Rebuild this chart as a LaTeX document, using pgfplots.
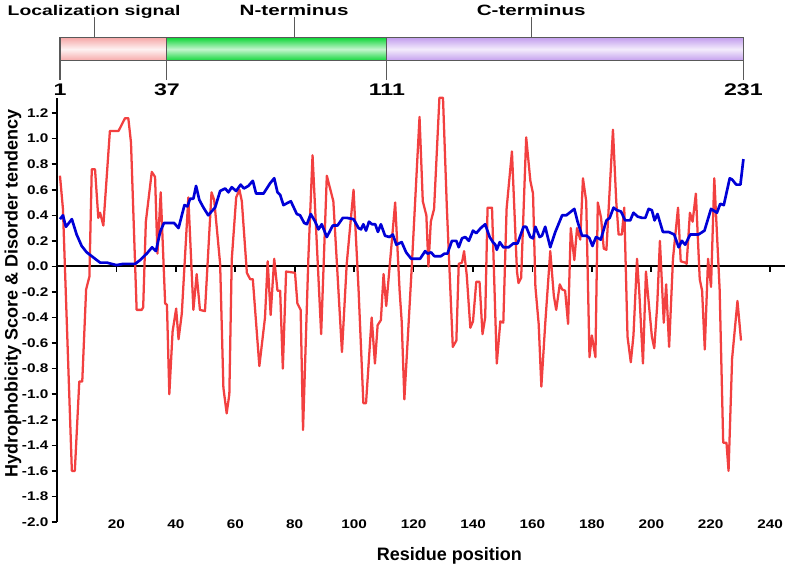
\documentclass[border=0pt]{standalone}
\usepackage{fontspec}
\setmainfont{Liberation Sans}
\newfontfamily\widefont{Liberation Sans}[FakeStretch=1.38]
\newfontfamily\tickfont{Liberation Sans}[FakeStretch=1.22]
\usepackage{pgfplots}
\pgfplotsset{compat=1.18}

\definecolor{hydro}{RGB}{242,64,64}
\definecolor{disorder}{RGB}{0,0,215}
\definecolor{locfill}{RGB}{246,170,170}
\definecolor{nfill}{RGB}{20,215,60}
\definecolor{cfill}{RGB}{196,160,238}

\begin{document}
\begin{tikzpicture}[x=1pt,y=1pt,
    domlab/.style={anchor=base, font=\widefont\fontsize{10.5}{12}\bfseries, inner sep=0pt},
    numlab/.style={anchor=base, font=\widefont\fontsize{12.6}{14}\bfseries, inner sep=0pt},
    barline/.style={black!65, line width=0.8pt}]
\useasboundingbox (-42.75,-35.25) rectangle (547.5,391.5);
\begin{axis}[
    scale only axis, width=546pt, height=318.2pt,
    xmin=0, xmax=245, ymin=-2, ymax=1.32,
    axis y line=left, axis x line=middle,
    axis line style={-, line width=1.5pt},
    clip=false,
    font=\bfseries,
    tick align=outside,
    major tick length=4pt,
    tick style={line width=1.2pt, black},
    xtick={20,40,...,240},
    xticklabels={20,40,60,80,100,120,140,160,180,200,220,240},
    xticklabel style={font=\tickfont\fontsize{9.4}{11}\bfseries, anchor=center, yshift=-189.4pt},
    ytick={-2,-1.8,...,1.21},
    yticklabels={-2.0,-1.8,-1.6,-1.4,-1.2,-1.0,-0.8,-0.6,-0.4,-0.2,0.0,0.2,0.4,0.6,0.8,1.0,1.2},
    yticklabel style={font=\tickfont\fontsize{9.4}{11}\bfseries, xshift=1pt},
    xlabel={Residue position},
    xlabel style={font=\fontsize{13.5}{16}\bfseries, at={(axis description cs:0.539,-0.0806)}, anchor=center},
    ylabel={Hydrophobicity Score \& Disorder tendency},
    ylabel style={font=\fontsize{13.5}{16}\bfseries, at={(axis description cs:-0.0604,0.538)}, anchor=center, rotate=0},
]
% hydrophobicity score
\addplot[hydro, line width=1.7pt, line join=round] coordinates {
(1,0.71) (2,0.45) (5,-1.60) (6,-1.60) (7.5,-0.90) (8.5,-0.90) (9.8,-0.18) (10.9,-0.08)
(11.7,0.76) (12.8,0.76) (13.9,0.38) (14.5,0.42) (15.6,0.32) (17.8,1.06) (20.7,1.06)
(22.9,1.16) (24,1.16) (24.9,0.97) (26.8,-0.34) (28.5,-0.34) (29,-0.32) (29.9,0.35)
(31.9,0.74) (33,0.70) (33.8,0.10) (34.9,0.58) (36.4,-0.29) (37,-0.30) (37.8,-1.0)
(38.9,-0.51) (40.1,-0.33) (40.9,-0.57) (42,-0.37) (44.2,0.54) (45.9,-0.34) (47,-0.06)
(48.1,-0.34) (49.8,-0.35) (52,0.58) (52.9,0.52) (54.9,0.02) (56,-0.95) (57.1,-1.15)
(58,-1.0) (58.8,0.05) (60.3,0.54) (61.4,0.60) (62.2,0.51) (63.9,-0.05) (65,-0.10)
(65.9,-0.10) (68.1,-0.78) (70,-0.40) (70.9,0.04) (71.9,-0.38) (73.1,0.06) (74.2,-0.19)
(75.1,-0.19) (76,-0.80) (77.1,-0.04) (80.1,-0.05) (80.9,-0.29) (82,-0.34) (82.8,-1.28)
(84.6,0.07) (86,0.87) (88.9,-0.53) (90.8,0.71) (93,0.51) (95.9,-0.67) (97.5,0.02)
(99.8,0.60) (101.5,-0.19) (103.1,-1.07) (104,-1.07) (105.9,-0.40) (107,-0.76)
(107.9,-0.46) (109,-0.42) (109.9,-0.06) (110.8,-0.31) (113.8,0.50) (115.3,-0.19)
(116,-0.43) (116.9,-1.04) (119.4,0.0) (122,1.17) (123.1,0.51) (124.3,0.40) (125,0.0)
(125.8,0.35) (126.9,0.45) (128.7,1.32) (129.9,1.32) (131.2,0.46) (133.2,-0.63)
(134.4,-0.58) (135.2,0.02) (136.3,0.03) (137,0.12) (137.9,-0.07) (139.1,-0.48)
(140,-0.43) (141.1,-0.12) (142.2,-0.12) (143.2,-0.53) (144.1,-0.40) (144.9,0.46)
(146.4,0.46) (148,-0.76) (149.2,-0.43) (150.2,-0.44) (151.3,0.45) (153.1,0.90)
(154.8,-0.04) (155.3,-0.13) (156.2,-0.09) (157.9,1.01) (159.3,0.67) (160.2,0.57)
(161,-0.16) (162.1,-0.45) (163,-0.94) (164.3,-0.45) (166,0.12) (167.2,-0.23) (168,-0.34)
(169.2,-0.14) (170,-0.18) (171,-0.19) (172,-0.45) (172.9,0.30) (174.1,0.05) (175,0.30)
(176.1,0.21) (177,0.69) (178.1,0.51) (179.2,-0.71) (180,-0.54) (181.2,-0.71) (182,0.50)
(183.1,0.38) (184,0.14) (184.9,0.13) (187.1,1.07) (188.2,0.51) (189,0.25) (190.1,0.25)
(190.9,0.46) (192,-0.55) (193.1,-0.75) (194,-0.54) (195.2,0.06) (196,-0.22) (197.2,-0.76)
(198.2,-0.04) (199,-0.25) (200.2,-0.55) (201,-0.64) (202,-0.30) (202.9,0.20) (204.2,-0.44)
(205,-0.14) (206,-0.63) (207.3,0.06) (209,0.46) (209.9,0.04) (211.4,0.03) (211.9,0.02)
(213,0.42) (213.9,0.35) (215,0.57) (216.3,-0.10) (217.1,-0.19) (218,-0.65) (219.1,0.06)
(220.1,-0.16) (221.2,0.69) (223,-0.18) (224.2,-1.38) (225.3,-1.38) (226,-1.60)
(227.2,-0.72) (229,-0.27) (230.2,-0.58)
};
% disorder tendency
\addplot[disorder, line width=2pt, line join=round] coordinates {
(1,0.37) (2,0.40) (3,0.31) (5,0.37) (6.6,0.25) (8.3,0.16) (10,0.11) (11.7,0.08)
(12.8,0.06) (14.5,0.03) (16.7,0.03) (18.4,0.02) (20,0.01) (22.3,0.02) (26.3,0.02)
(28,0.05) (30.2,0.10) (32,0.15) (33.3,0.12) (34.7,0.27) (36,0.34) (39.4,0.34) (40.9,0.30)
(42.9,0.48) (43.9,0.47) (44.8,0.53) (45.9,0.53) (46.8,0.63) (47.9,0.52) (49.3,0.46)
(50.9,0.40) (52,0.43) (53.2,0.46) (54.9,0.59) (56.6,0.61) (57.7,0.58) (58.8,0.62)
(60.3,0.59) (61.8,0.64) (62.9,0.61) (64.4,0.63) (65.9,0.67) (67,0.57) (69.5,0.57)
(71.7,0.65) (73.1,0.69) (74.2,0.58) (75.1,0.56) (76.2,0.48) (78.7,0.51) (80.7,0.41)
(81.8,0.40) (83.2,0.34) (84.1,0.33) (85.4,0.41) (86.9,0.35) (88,0.29) (89.1,0.33)
(90.8,0.23) (92.8,0.32) (94.4,0.32) (96.2,0.38) (97.5,0.38) (99.8,0.37) (101.5,0.30)
(102.3,0.29) (103.1,0.33) (104,0.28) (105,0.35) (106,0.33) (107.1,0.33) (108,0.27)
(109,0.33) (110.4,0.24) (111.9,0.23) (113,0.25) (114.2,0.17) (116,0.19) (117.5,0.11)
(119.2,0.06) (122.2,0.06) (123.9,0.12) (124.7,0.10) (125.9,0.11) (127,0.08) (129.2,0.08)
(130.4,0.10) (131.4,0.10) (132.9,0.20) (134.4,0.20) (135.2,0.15) (136.3,0.22)
(137.4,0.23) (138.6,0.20) (140,0.28) (141.1,0.26) (142.6,0.30) (144.1,0.33) (145.6,0.23)
(146.7,0.19) (147.5,0.17) (148,0.13) (149,0.19) (150.2,0.15) (152,0.15) (153.6,0.18)
(155,0.18) (157,0.31) (157.9,0.31) (159.3,0.23) (160.2,0.22) (161,0.31) (162.4,0.23)
(163.2,0.24) (164.3,0.31) (166,0.15) (167.7,0.27) (170,0.40) (171.4,0.40) (174.1,0.45)
(175.2,0.35) (176.7,0.24) (178.3,0.24) (179.2,0.22) (180.2,0.16) (181.4,0.23) (183,0.21)
(184.9,0.36) (186,0.38) (187.3,0.46) (188.4,0.44) (189.8,0.43) (191.2,0.36) (192.9,0.36)
(194,0.42) (195.4,0.39) (196.9,0.38) (198,0.38) (199.1,0.45) (200.2,0.44) (201.1,0.36)
(202.1,0.41) (203.9,0.27) (205.8,0.27) (207.7,0.25) (209.2,0.15) (210.3,0.20)
(211.4,0.17) (213.1,0.25) (215.9,0.25) (217.9,0.28) (220.1,0.45) (222.1,0.42)
(223.2,0.49) (224.4,0.48) (226.4,0.69) (227.2,0.68) (228.6,0.64) (230,0.64) (231,0.84)
};

% domain bar on top
\shade[top color=locfill, bottom color=locfill, middle color=locfill!15]
  (axis cs:1,1.788) rectangle (axis cs:37,1.611);
\shade[top color=nfill, bottom color=nfill, middle color=nfill!25]
  (axis cs:37,1.788) rectangle (axis cs:111,1.611);
\shade[top color=cfill, bottom color=cfill, middle color=cfill!20]
  (axis cs:111,1.788) rectangle (axis cs:231,1.611);
\draw[barline] (axis cs:1,1.788) rectangle (axis cs:231,1.611);
\draw[barline] (axis cs:37,1.788) -- (axis cs:37,1.611);
\draw[barline] (axis cs:111,1.788) -- (axis cs:111,1.611);
\draw[barline] (axis cs:1,1.611) -- (axis cs:1,1.458);
\draw[barline] (axis cs:37,1.611) -- (axis cs:37,1.458);
\draw[barline] (axis cs:111,1.611) -- (axis cs:111,1.458);
\draw[barline] (axis cs:231,1.611) -- (axis cs:231,1.458);
\node[numlab] at (axis cs:1,1.341) {1};
\node[numlab] at (axis cs:37,1.341) {37};
\node[numlab] at (axis cs:111,1.341) {111};
\node[numlab] at (axis cs:231,1.341) {231};
\draw[barline] (axis cs:12.5,1.788) -- (axis cs:12.5,1.951);
\draw[barline] (axis cs:79.8,1.788) -- (axis cs:79.8,1.951);
\draw[barline] (axis cs:159.6,1.788) -- (axis cs:159.6,1.951);
\node[domlab] at (axis cs:12.5,1.963) {Localization signal};
\node[domlab, font=\widefont\fontsize{11.2}{13}\bfseries] at (axis cs:79.8,1.963) {N-terminus};
\node[domlab, font=\widefont\fontsize{11.2}{13}\bfseries] at (axis cs:159.6,1.963) {C-terminus};
\end{axis}
\end{tikzpicture}
\end{document}
